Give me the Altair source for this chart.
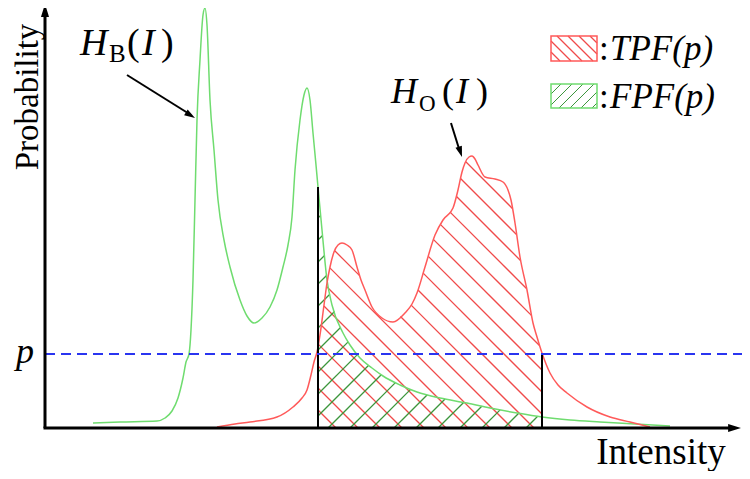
import altair as alt
import numpy as np
import pandas as pd

# ---------------- data (intensity units, probability units) ----------------
green_x = [48, 75, 112, 120, 127, 133, 138, 141, 144, 146, 148, 150, 152, 155, 158, 160, 162, 165, 169, 173,
           179, 185, 195, 202, 209, 217, 225, 232, 238, 243, 247, 250, 255, 259, 262, 265, 268, 271, 273, 277,
           282, 287, 298, 305, 315, 327, 338, 355, 372, 395, 422, 445, 472, 497, 525, 555, 590, 625]
green_y = [5, 6, 7, 10, 17, 30, 50, 66, 74, 98, 148, 228, 308, 368, 413, 420, 403, 328, 278, 228,
           188, 161, 128, 112, 105, 110, 121, 138, 161, 183, 211, 258, 308, 333, 340, 328, 295, 263, 241, 198,
           148, 123, 95, 83, 70, 60, 52, 43, 36, 30, 25, 20, 15, 11, 8, 6, 4, 2]

red_x = [172, 190, 205, 232, 248, 257, 262, 266, 269, 272, 275, 279, 282, 285, 289, 293, 297, 302, 307, 312,
         316, 320, 327, 337, 348, 360, 367, 372, 380, 390, 398, 408, 413, 417, 420, 424, 427, 430, 433, 440,
         450, 458, 463, 466, 470, 475, 482, 488, 492, 497, 505, 513, 522, 542, 565, 585, 605]
red_y = [1, 4, 6, 11, 21, 30, 38, 53, 66, 76, 93, 123, 145, 161, 176, 183, 185, 183, 178, 161,
         148, 138, 121, 110, 106, 115, 124, 135, 161, 193, 208, 220, 238, 256, 265, 271, 272, 269, 263, 251,
         249, 246, 238, 228, 205, 171, 138, 105, 91, 75, 55, 43, 35, 21, 11, 6, 1]

p_level = 74
t_low = 273
t_high = 497

legend_labels = [":", "TPF(p)", ":", "FPF(p)"]

# ---------------- helpers ----------------
W, H = 734, 463
XS = alt.Scale(domain=[-37, 697], nice=False, zero=False)
YS = alt.Scale(domain=[-43, 420], nice=False, zero=False)
FONT = "Liberation Serif"

GREEN = "#6fdc6f"
RED = "#ff5a5a"
RED_H = "#f04a4a"
GREEN_H = "#3c963c"


def hatch(cx, cy, xlo, xhi, slope, step, phase, ylo=0.0):
    gx = np.linspace(xlo, xhi, 4000)
    top = np.interp(gx, cx, cy)
    ymax = top.max()
    if slope < 0:
        cmin, cmax = xlo + ylo, xhi + ymax
    else:
        cmin, cmax = ylo - xhi, ymax - xlo
    start = phase + step * np.floor((cmin - phase) / step)
    rows = []
    for c in np.arange(start, cmax + step, step):
        ly = slope * gx + c
        inside = (ly >= ylo) & (ly <= top)
        if not inside.any():
            continue
        idx = np.flatnonzero(inside)
        br = np.where(np.diff(idx) > 1)[0]
        ss = np.r_[idx[0], idx[br + 1]]
        ee = np.r_[idx[br], idx[-1]]
        for s, e in zip(ss, ee):
            if e - s < 3:
                continue
            rows.append(dict(x=gx[s], y=ly[s], x2=gx[e], y2=ly[e]))
    return pd.DataFrame(rows)


def rules(df, color, width, dash=None):
    kw = dict(color=color, strokeWidth=width)
    if dash:
        kw["strokeDash"] = dash
    return alt.Chart(df).mark_rule(**kw).encode(
        x=alt.X("x:Q", scale=XS, axis=None), y=alt.Y("y:Q", scale=YS, axis=None),
        x2="x2:Q", y2="y2:Q")


def text(t, x, y, size, italic=False, angle=0, align="left", baseline="alphabetic"):
    kw = dict(font=FONT, fontSize=size, color="black", align=align, baseline=baseline)
    if italic:
        kw["fontStyle"] = "italic"
    if angle:
        kw["angle"] = angle
    return alt.Chart(pd.DataFrame({"x": [x], "y": [y], "t": [t]})).mark_text(**kw).encode(
        x=alt.X("x:Q", scale=XS, axis=None), y=alt.Y("y:Q", scale=YS, axis=None), text="t:N")


ARROW = "M0,0L-0.5,1.6L0.5,1.6Z"


def head(x, y, angle, size=200):
    return alt.Chart(pd.DataFrame({"x": [x], "y": [y]})).mark_point(
        shape=ARROW, filled=True, color="black", opacity=1, size=size, angle=angle, strokeWidth=0).encode(
        x=alt.X("x:Q", scale=XS, axis=None), y=alt.Y("y:Q", scale=YS, axis=None))


# ---------------- layers ----------------
green_df = pd.DataFrame({"x": green_x, "y": green_y})
red_df = pd.DataFrame({"x": red_x, "y": red_y})

red_hatch = hatch(red_x, red_y, t_low, t_high, -1, 22, 5)
green_hatch = hatch(green_x, green_y, t_low, t_high, 1, 22, 3)

line_green = alt.Chart(green_df).mark_line(color=GREEN, strokeWidth=1.5, interpolate="monotone").encode(
    x=alt.X("x:Q", scale=XS, axis=None), y=alt.Y("y:Q", scale=YS, axis=None))
line_red = alt.Chart(red_df).mark_line(color=RED, strokeWidth=1.5, interpolate="monotone").encode(
    x=alt.X("x:Q", scale=XS, axis=None), y=alt.Y("y:Q", scale=YS, axis=None))

g_top = float(np.interp(t_low, green_x, green_y))
thresh = pd.DataFrame({"x": [t_low, t_high], "y": [0, 0], "x2": [t_low, t_high], "y2": [g_top, p_level]})
pline = pd.DataFrame({"x": [0], "y": [p_level], "x2": [700], "y2": [p_level]})
axes = pd.DataFrame({"x": [0, -1.5], "y": [0, 0], "x2": [0, 685], "y2": [412, 0]})

# legend boxes
lx0, lx1 = 506, 552
leg_red = hatch([lx0, lx1], [392, 392], lx0, lx1, -1, 11, 2, ylo=367)
leg_green = hatch([lx0, lx1], [344, 344], lx0, lx1, 1, 11, 4, ylo=320)
boxes = pd.DataFrame({"x": [lx0, lx0], "x2": [lx1, lx1], "y": [367, 320], "y2": [392, 344],
                      "c": [RED, GREEN]})
box_layer = alt.Chart(boxes).mark_rect(fillOpacity=0, strokeWidth=1.5).encode(
    x=alt.X("x:Q", scale=XS, axis=None), x2="x2:Q",
    y=alt.Y("y:Q", scale=YS, axis=None), y2="y2:Q",
    stroke=alt.Color("c:N", scale=None))

arrows = pd.DataFrame({"x": [82, 406], "y": [353, 305], "x2": [146, 415], "y2": [313, 276]})

layers = [
    rules(red_hatch, RED_H, 1.3),
    rules(green_hatch, GREEN_H, 1.3),
    line_green, line_red,
    rules(thresh, "black", 2),
    rules(pline, "#2a35f0", 2, [10, 6]),
    rules(axes, "black", 3),
    head(0, 424, 0, 260), head(696, 0, 90, 260),
    rules(leg_red, RED_H, 1.2), rules(leg_green, GREEN_H, 1.0), box_layer,
    rules(arrows, "black", 2),
    head(150, 310, 122, 180), head(417, 271, 162, 180),
    text("Probability", -17, 331, 33, angle=270, align="center", baseline="middle"),
    text("Intensity", 616, -25, 37, align="center", baseline="middle"),
    text("p", -20, 76, 36, italic=True, align="center", baseline="middle"),
    text("H", 35, 373, 38, italic=True),
    text("B", 64, 366, 25),
    text("(", 82, 373, 38),
    text("I", 97, 373, 38, italic=True),
    text(")", 116, 373, 38),
    text("H", 346, 325, 36, italic=True),
    text("O", 374, 317, 23),
    text("(", 397, 325, 36),
    text("I", 411, 325, 36, italic=True),
    text(")", 431, 325, 36),
    text(legend_labels[0], 554, 379, 35, baseline="middle"),
    text(legend_labels[1], 565, 379, 35, italic=True, baseline="middle"),
    text(legend_labels[2], 554, 331, 35, baseline="middle"),
    text(legend_labels[3], 565, 331, 35, italic=True, baseline="middle"),
]

chart = alt.layer(*layers).properties(
    width=W, height=H, autosize=alt.AutoSizeParams(type="none"), padding=0
).configure_view(stroke=None)

chart.save("out.html", embed_options={"renderer": "svg", "actions": False})
